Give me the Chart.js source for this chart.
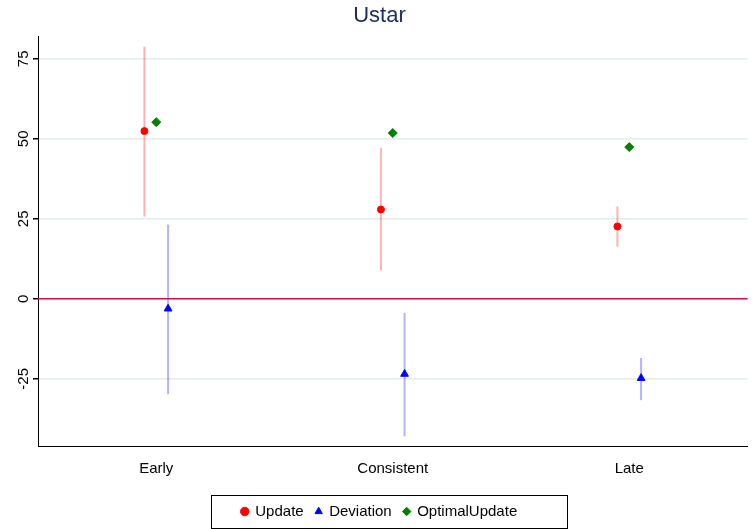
<!DOCTYPE html>
<html>
<head>
<meta charset="utf-8">
<script src="https://cdn.jsdelivr.net/npm/chart.js@4"></script>
<style>
  body { margin: 0; background: #fff; }
  #wrap { width: 753px; height: 529px; }
</style>
</head>
<body>
<div id="wrap"><canvas id="grafico"></canvas></div>
<script>
// Datos
const categorias = ['Early', 'Consistent', 'Late'];
const update = [52.4, 27.9, 22.6];
const updateLo = [25.7, 8.8, 16.3];
const updateHi = [78.8, 47.1, 28.9];
const deviation = [-3.1, -23.5, -24.8];
const deviationLo = [-29.8, -43, -31.7];
const deviationHi = [23.2, -4.4, -18.5];
const optimal = [55.2, 51.8, 47.4];
const yTicks = [-25, 0, 25, 50, 75];

const desp = 0.05; // desplazamiento dentro de cada categoría

function puntos(vals, dx) {
  return vals.map((v, i) => ({ x: i + 1 + dx, y: v }));
}

// Barras de error, línea en cero, etiquetas del eje y y marco de la leyenda
const barrasError = {
  id: 'barrasError',
  beforeDatasetsDraw(chart) {
    const { ctx, scales: { x, y } } = chart;
    const series = [
      { lo: updateLo, hi: updateHi, dx: -desp, color: '255,0,0' },
      { lo: deviationLo, hi: deviationHi, dx: desp, color: '0,0,255' }
    ];
    ctx.save();
    series.forEach(s => {
      s.lo.forEach((lo, i) => {
        const px = x.getPixelForValue(i + 1 + s.dx);
        const y1 = y.getPixelForValue(lo);
        const y2 = y.getPixelForValue(s.hi[i]);
        ctx.strokeStyle = 'rgba(' + s.color + ',0.3)';
        ctx.lineWidth = 2;
        ctx.beginPath(); ctx.moveTo(px, y1); ctx.lineTo(px, y2); ctx.stroke();
      });
    });
    ctx.strokeStyle = '#d0104c';
    ctx.lineWidth = 1.5;
    const y0 = y.getPixelForValue(0);
    ctx.beginPath(); ctx.moveTo(chart.chartArea.left, y0); ctx.lineTo(chart.chartArea.right, y0); ctx.stroke();
    ctx.restore();
  },
  afterDraw(chart) {
    const { ctx, scales: { y } } = chart;
    ctx.save();
    ctx.fillStyle = '#000';
    ctx.font = '15px "Liberation Sans"';
    ctx.textAlign = 'center';
    ctx.textBaseline = 'bottom';
    yTicks.forEach(v => {
      ctx.save();
      ctx.translate(y.right - 7, y.getPixelForValue(v));
      ctx.rotate(-Math.PI / 2);
      ctx.fillText(String(v), 0, 0);
      ctx.restore();
    });
    const l = chart.legend;
    ctx.strokeStyle = '#000';
    ctx.lineWidth = 1;
    ctx.strokeRect(211.5, l.top + 3.5, 356, l.height - 4);
    ctx.restore();
  }
};

new Chart(document.getElementById('grafico'), {
  type: 'scatter',
  data: {
    datasets: [
      { label: 'Update', data: puntos(update, -desp), backgroundColor: '#ff0000', borderColor: '#ff0000', pointStyle: 'circle', pointRadius: 3.5 },
      { label: 'Deviation', data: puntos(deviation, desp), backgroundColor: '#0000ff', borderColor: '#0000ff', pointStyle: 'triangle', pointRadius: 4.5 },
      { label: 'OptimalUpdate', data: puntos(optimal, 0), backgroundColor: '#008000', borderColor: '#008000', pointStyle: 'rectRot', pointRadius: 4.5 }
    ]
  },
  options: {
    responsive: true,
    maintainAspectRatio: false,
    animation: false,
    layout: { padding: { right: -6, top: 3, bottom: 0 } },
    plugins: {
      title: { display: true, text: 'Ustar', color: '#1f2d5a', font: { family: 'Liberation Sans', size: 22, weight: 'normal' }, padding: { top: 0, bottom: 7 } },
      legend: {
        position: 'bottom',
        labels: { usePointStyle: true, boxWidth: 6, boxHeight: 6, color: '#000', padding: 12, font: { family: 'Liberation Sans', size: 15 } }
      },
      tooltip: { enabled: false }
    },
    scales: {
      x: {
        type: 'linear', min: 0.5, max: 3.5,
        afterBuildTicks: ax => { ax.ticks = categorias.map((c, i) => ({ value: i + 1 })); },
        afterFit: ax => { ax.height = 46; },
        ticks: { callback: v => categorias[v - 1], color: '#000', font: { family: 'Liberation Sans', size: 15 }, padding: 8 },
        grid: { display: false, drawTicks: true, tickColor: '#000', tickLength: 6 },
        border: { color: '#000' }
      },
      y: {
        min: -46, max: 82,
        afterBuildTicks: ax => { ax.ticks = yTicks.map(v => ({ value: v })); },
        afterFit: ax => { ax.width = 38; },
        ticks: { display: false },
        grid: { color: '#e3ece9', lineWidth: 1.5, drawTicks: true, tickColor: '#000', tickLength: 5 },
        border: { color: '#000' }
      }
    }
  },
  plugins: [barrasError]
});
</script>
</body>
</html>
